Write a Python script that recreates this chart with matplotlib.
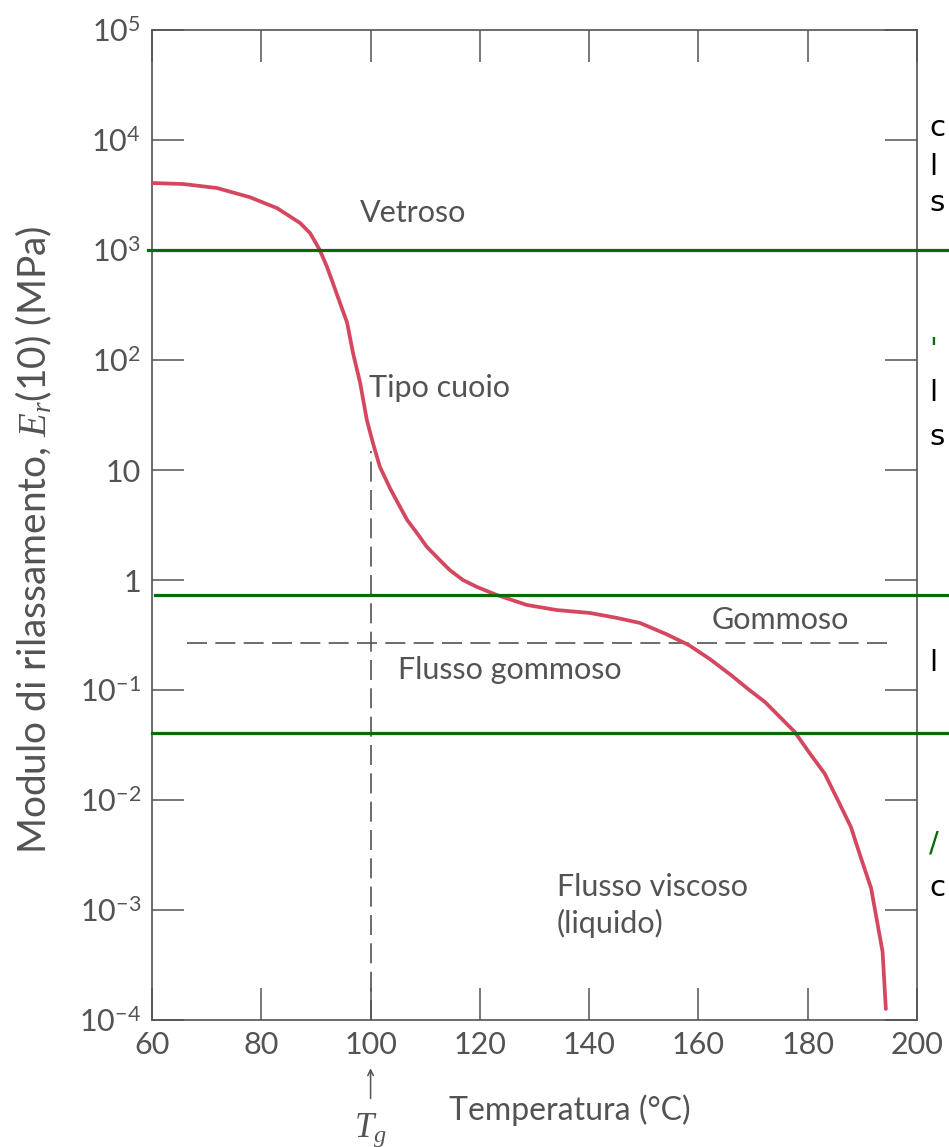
import matplotlib.pyplot as plt
from matplotlib.ticker import FixedLocator, FixedFormatter, NullLocator

plt.rcParams['font.family'] = ['Lato', 'DejaVu Sans']
plt.rcParams['mathtext.fontset'] = 'custom'
plt.rcParams['mathtext.rm'] = 'Lato'
plt.rcParams['mathtext.it'] = 'Liberation Serif:italic'

INK = '#535353'
CURVE = '#d4475e'
GREEN = '#0b690b'

# relaxation modulus E_r(10) in MPa against temperature in degC
temp = [60.2, 65.7, 71.9, 77.9, 82.9, 87.1, 88.9, 89.8, 90.7, 92.0,
        93.1, 94.4, 95.7, 96.8, 98.1, 99.3, 100.4, 101.7, 103.6, 105.0,
        106.7, 108.5, 110.3, 112.7, 114.5, 116.9, 119.5, 123.1, 128.6, 134.1,
        140.2, 145.1, 149.3, 154.0, 158.2, 162.1, 166.1, 169.1, 172.2, 177.6,
        180.3, 183.1, 185.5, 187.9, 189.7, 191.6, 193.7, 194.3]
modulus = [4060, 3980, 3660, 3020, 2400, 1760, 1430, 1200, 1000, 708,
           501, 331, 219, 115, 61.7, 28.8, 17.8, 10.7, 6.76, 5.01,
           3.51, 2.67, 2.0, 1.51, 1.23, 1.0, 0.863, 0.731, 0.593, 0.533,
           0.501, 0.452, 0.407, 0.324, 0.257, 0.191, 0.135, 0.102, 0.0776,
           0.0417, 0.0269, 0.0174, 0.0100, 0.00569, 0.00302, 0.00158,
           0.000417, 0.000126]

# glass transition and the rubbery plateau reference level
tg = 100
tg_modulus_top = 15
plateau = 0.267
plateau_span = [66.4, 194.5]

# region boundaries marked in green
boundaries = [1000, 0.73, 0.041]

x_ticks = [60, 80, 100, 120, 140, 160, 180, 200]
y_ticks = [1e-4, 1e-3, 1e-2, 1e-1, 1, 10, 1e2, 1e3, 1e4, 1e5]
y_labels = [r'$10^{-4}$', r'$10^{-3}$', r'$10^{-2}$', r'$10^{-1}$', '1', '10',
            r'$10^{2}$', r'$10^{3}$', r'$10^{4}$', r'$10^{5}$']

fig = plt.figure(figsize=(9.49, 11.47), dpi=100)
ax = fig.add_axes([152 / 949, 127 / 1147, 765 / 949, 990 / 1147])

ax.set_yscale('log')
ax.set_xlim(60, 200)
ax.set_ylim(1e-4, 1e5)

ax.plot(temp, modulus, color=CURVE, lw=2.7, solid_capstyle='round',
        solid_joinstyle='round', zorder=3)

ax.plot(plateau_span, [plateau, plateau], color=INK, lw=1.2,
        dashes=(12, 5), zorder=2)
ax.plot([tg, tg], [1e-4, tg_modulus_top], color=INK, lw=1.2,
        dashes=(12, 5), zorder=2)

for level, x0 in zip(boundaries, [-0.005, 0.004, 0.0]):
    ax.axhline(level, xmin=x0, xmax=1.05, color=GREEN, lw=2.3,
               clip_on=False, zorder=4)

ax.xaxis.set_major_locator(FixedLocator(x_ticks))
ax.yaxis.set_major_locator(FixedLocator(y_ticks))
ax.yaxis.set_major_formatter(FixedFormatter(y_labels))
ax.yaxis.set_minor_locator(NullLocator())
ax.tick_params(which='major', direction='in', length=23, width=1.1,
               color=INK, labelcolor=INK, labelsize=22, top=True, right=True,
               pad=8)
for s in ax.spines.values():
    s.set_color(INK)
    s.set_linewidth(1.2)

ax.set_ylabel(r'Modulo di rilassamento, $E_r$(10) (MPa)', color=INK,
              fontsize=28)
ax.yaxis.set_label_coords(-0.128, 0.485)
ax.text(0.546, -0.091, 'Temperatura (°C)', transform=ax.transAxes,
        ha='center', va='center', color=INK, fontsize=23)

# Tg marker under the axis
xt = ax.get_xaxis_transform()
ax.annotate('', xy=(tg, -0.046), xytext=(tg, -0.082), xycoords=xt,
            textcoords=xt,
            arrowprops=dict(arrowstyle='->', color=INK, lw=1.1))
ax.text(tg, -0.111, r'$T_g$', transform=xt, ha='center', va='center',
        color=INK, fontsize=25)

# regions of viscoelastic behaviour
ax.text(107.8, 2170, 'Vetroso', ha='center', va='center', color=INK, fontsize=22)
ax.text(112.7, 56, 'Tipo cuoio', ha='center', va='center', color=INK, fontsize=22)
ax.text(174.9, 0.43, 'Gommoso', ha='center', va='center', color=INK, fontsize=22)
ax.text(125.5, 0.152, 'Flusso gommoso', ha='center', va='center', color=INK,
        fontsize=22)
ax.text(134.1, 0.0011, 'Flusso viscoso\n(liquido)', ha='left', va='center',
        color=INK, fontsize=22, linespacing=1.3)

# slide text at the right margin
for y, s, c in [(128, 'c', 'black'), (167, 'l', 'black'), (203, 's', 'black'),
                (350, "'", GREEN), (393, 'l', 'black'), (437, 's', 'black'),
                (663, 'l', 'black'), (843, '/', GREEN), (888, 'c', 'black')]:
    fig.text(929 / 949, 1 - y / 1147, s, color=c, fontsize=21,
             family='DejaVu Sans', ha='left', va='center')

fig.savefig('out.png', dpi=100)
